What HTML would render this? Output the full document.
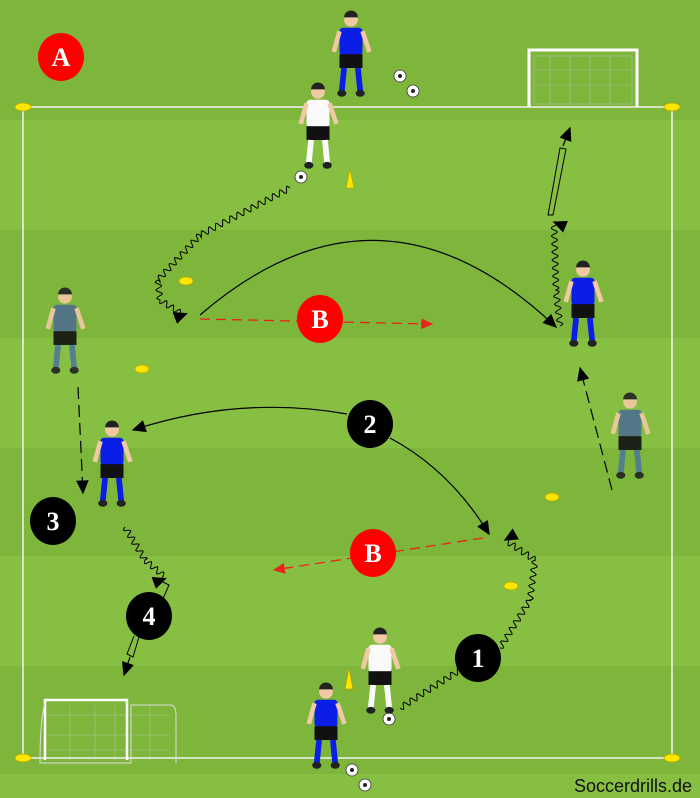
<!DOCTYPE html>
<html><head><meta charset="utf-8"><style>
html,body{margin:0;padding:0;width:700px;height:798px;overflow:hidden;background:#80b93c}
svg{display:block}
</style></head><body>
<svg id="s" width="700" height="798" viewBox="0 0 700 798" xmlns="http://www.w3.org/2000/svg">
<defs>
<marker id="ah" viewBox="0 0 10 10" refX="9" refY="5" markerWidth="10" markerHeight="10" markerUnits="userSpaceOnUse" orient="auto"><path d="M0,0.5L10,5L0,9.5z" fill="#000"/></marker>
<marker id="ah2" viewBox="0 0 10 10" refX="9" refY="5" markerWidth="14" markerHeight="14" markerUnits="userSpaceOnUse" orient="auto"><path d="M0,0.5L10,5L0,9.5z" fill="#000"/></marker>
<marker id="rh" viewBox="0 0 10 10" refX="9" refY="5" markerWidth="12" markerHeight="12" markerUnits="userSpaceOnUse" orient="auto"><path d="M0,0.5L10,5L0,9.5z" fill="#e8231a"/></marker>
</defs>
<rect width="700" height="798" fill="#7db63b"/>
<rect y="120" width="700" height="110" fill="#87bf42"/>
<rect y="338" width="700" height="110" fill="#87bf42"/>
<rect y="556" width="700" height="110" fill="#87bf42"/>
<rect y="774" width="700" height="24" fill="#87bf42"/>
<rect x="23" y="107" width="649" height="651" fill="none" stroke="#f2f2f2" stroke-width="1.5"/>
<g fill="none" stroke="#fff" stroke-width="3"><path d="M529,107V50H637V107"/></g>
<g stroke="#bbb" stroke-width="0.6" opacity=".8" fill="none"><rect x="534" y="56" width="98" height="48"/><path d="M534,70H632M534,85H632M550,56V104M570,56V104M590,56V104M610,56V104"/></g>
<g fill="none" stroke="#fff" stroke-width="2.5"><path d="M45,760V700H127V760"/></g>
<path d="M45,703 Q40,720 40,763H131V705H170Q176,705 176,715V763" fill="none" stroke="#ddd" stroke-width="1"/>
<g stroke="#ccc" stroke-width="0.5" opacity=".7" fill="none"><path d="M48,715H170M48,735H170M48,750H170M70,705V760M95,705V760M115,705V760M150,705V760"/></g>
<g fill="#ffe600" stroke="#b9a300" stroke-width="0.7">
<ellipse cx="23" cy="107" rx="8" ry="4"/><ellipse cx="672" cy="107" rx="8" ry="4"/>
<ellipse cx="23" cy="758" rx="8" ry="4"/><ellipse cx="672" cy="758" rx="8" ry="4"/>
<ellipse cx="186" cy="281" rx="7" ry="4"/><ellipse cx="142" cy="369" rx="7" ry="4"/>
<ellipse cx="552" cy="497" rx="7" ry="4"/><ellipse cx="511" cy="586" rx="7" ry="4"/>
<path d="M346,188L350,169L354,188z"/><path d="M345,689L349,668L353,689z"/>
</g>
<g fill="#fff" stroke="#333" stroke-width="0.8">
<circle cx="400" cy="76" r="6"/><circle cx="413" cy="91" r="6"/><circle cx="301" cy="177" r="6"/>
<circle cx="389" cy="719" r="6"/><circle cx="352" cy="770" r="6"/><circle cx="365" cy="785" r="6"/>
</g>
<g fill="#222"><circle cx="400" cy="76" r="2"/><circle cx="413" cy="91" r="2"/><circle cx="301" cy="177" r="2"/><circle cx="389" cy="719" r="2"/><circle cx="352" cy="770" r="2"/><circle cx="365" cy="785" r="2"/></g>
<g fill="none" stroke="#000" stroke-width="1.2">
<path d="M200,315 Q380,160 556,327" marker-end="url(#ah2)"/>
<path d="M347,414 Q240,395 133,430" marker-end="url(#ah2)"/>
<path d="M390,438 Q450,470 489,534" marker-end="url(#ah2)"/>
<path d="M78,387 L83,493" stroke-dasharray="12,6" marker-end="url(#ah2)"/>
<path d="M612,490 L580,368" stroke-dasharray="12,6" marker-end="url(#ah2)"/>
<path d="M553,215 L548,215 L560,148 L566,149 Z" stroke-width="1"/>
<path d="M563,146 L570,128" marker-end="url(#ah2)"/>
<path d="M163,582 L169,585 L159,608" stroke-width="1"/>
<path d="M139,637 L133,657 L127,654 L134,636" stroke-width="1"/>
<path d="M130,657 L124,675" marker-end="url(#ah2)"/>
</g>
<g id="waves" fill="none" stroke="#000" stroke-width="1"></g>
<g fill="none" stroke="#e8231a" stroke-width="1.3" stroke-dasharray="10,6">
<path d="M200,319 L432,324" marker-end="url(#rh)"/>
<path d="M483,538 L274,570" marker-end="url(#rh)"/>
</g>
<g id="pl"></g>
<g font-family="Liberation Serif, serif" font-weight="bold" font-size="26" text-anchor="middle" fill="#fff">
<ellipse cx="61" cy="57" rx="23" ry="24" fill="#f00"/><text x="61" y="66">A</text>
<ellipse cx="320" cy="319" rx="23" ry="24" fill="#f00"/><text x="320" y="328">B</text>
<ellipse cx="373" cy="553" rx="23" ry="24" fill="#f00"/><text x="373" y="562">B</text>
<ellipse cx="370" cy="424" rx="23" ry="24" fill="#000"/><text x="370" y="433">2</text>
<ellipse cx="53" cy="521" rx="23" ry="24" fill="#000"/><text x="53" y="530">3</text>
<ellipse cx="149" cy="616" rx="23" ry="24" fill="#000"/><text x="149" y="625">4</text>
<ellipse cx="478" cy="658" rx="23" ry="24" fill="#000"/><text x="478" y="667">1</text>
</g>
<text x="692" y="792" text-anchor="end" font-family="Liberation Sans Narrow, Liberation Sans, sans-serif" font-size="18" fill="#111">Soccerdrills.de</text>
</svg>
<script>
var NS="http://www.w3.org/2000/svg";
function wave(pts,amp,wl,arrow){
  var d="",first=true;
  for(var i=0;i<pts.length-1;i++){
    var a=pts[i],b=pts[i+1],dx=b[0]-a[0],dy=b[1]-a[1],L=Math.hypot(dx,dy),nx=-dy/L,ny=dx/L;
    var n=Math.max(2,Math.round(L));
    for(var k=0;k<=n;k++){var t=k/n,s=t*L,o=amp*Math.sin(s/wl*2*Math.PI);
      var x=a[0]+dx*t+nx*o,y=a[1]+dy*t+ny*o;d+=(first?"M":"L")+x.toFixed(1)+","+y.toFixed(1);first=false;}
  }
  var p=document.createElementNS(NS,"path");p.setAttribute("d",d);
  if(arrow)p.setAttribute("marker-end","url(#ah2)");
  document.getElementById("waves").appendChild(p);
}
wave([[290,188],[200,235],[158,280],[160,300],[185,316]],3,8,1);
wave([[560,326],[556,290],[554,222]],3,8,1);
wave([[400,708],[460,670]],3,8,0);
wave([[500,648],[530,600],[535,560],[505,540]],3,8,1);
wave([[125,527],[145,560],[166,578]],3,8,1);
function player(x,y,shirt,sock,op,s){
  s=s||1.15;
  var g=document.createElementNS(NS,"g");g.setAttribute("opacity",op||1);
  g.setAttribute("transform","translate("+x+","+y+") scale("+s+")");
  g.innerHTML='<circle cx="0" cy="-42" r="6" fill="#f1c9a5"/>'+
  '<path d="M-6,-44a6,6 0 0 1 12,0z" fill="#222"/>'+
  '<rect x="-10" y="-35" width="20" height="24" rx="3" fill="'+shirt+'"/>'+
  '<line x1="-10" y1="-32" x2="-15" y2="-14" stroke="#f1c9a5" stroke-width="4"/>'+
  '<line x1="10" y1="-32" x2="16" y2="-14" stroke="#f1c9a5" stroke-width="4"/>'+
  '<rect x="-10" y="-12" width="20" height="12" fill="#111"/>'+
  '<line x1="-6" y1="0" x2="-8" y2="20" stroke="'+sock+'" stroke-width="5"/>'+
  '<line x1="6" y1="0" x2="8" y2="20" stroke="'+sock+'" stroke-width="5"/>'+
  '<ellipse cx="-8" cy="22" rx="4" ry="3" fill="#222"/><ellipse cx="8" cy="22" rx="4" ry="3" fill="#222"/>';
  document.getElementById("pl").appendChild(g);
}
player(351,68,"#0a1ee8","#0a1ee8");
player(318,140,"#fafafa","#fafafa");
player(583,318,"#0a1ee8","#0a1ee8");
player(112,478,"#0a1ee8","#0a1ee8");
player(380,685,"#fafafa","#fafafa");
player(326,740,"#0a1ee8","#0a1ee8");
player(65,345,"#4f7090","#4d7a9a",0.9);
player(630,450,"#4f7090","#4d7a9a",0.9);
</script>
</body></html>
